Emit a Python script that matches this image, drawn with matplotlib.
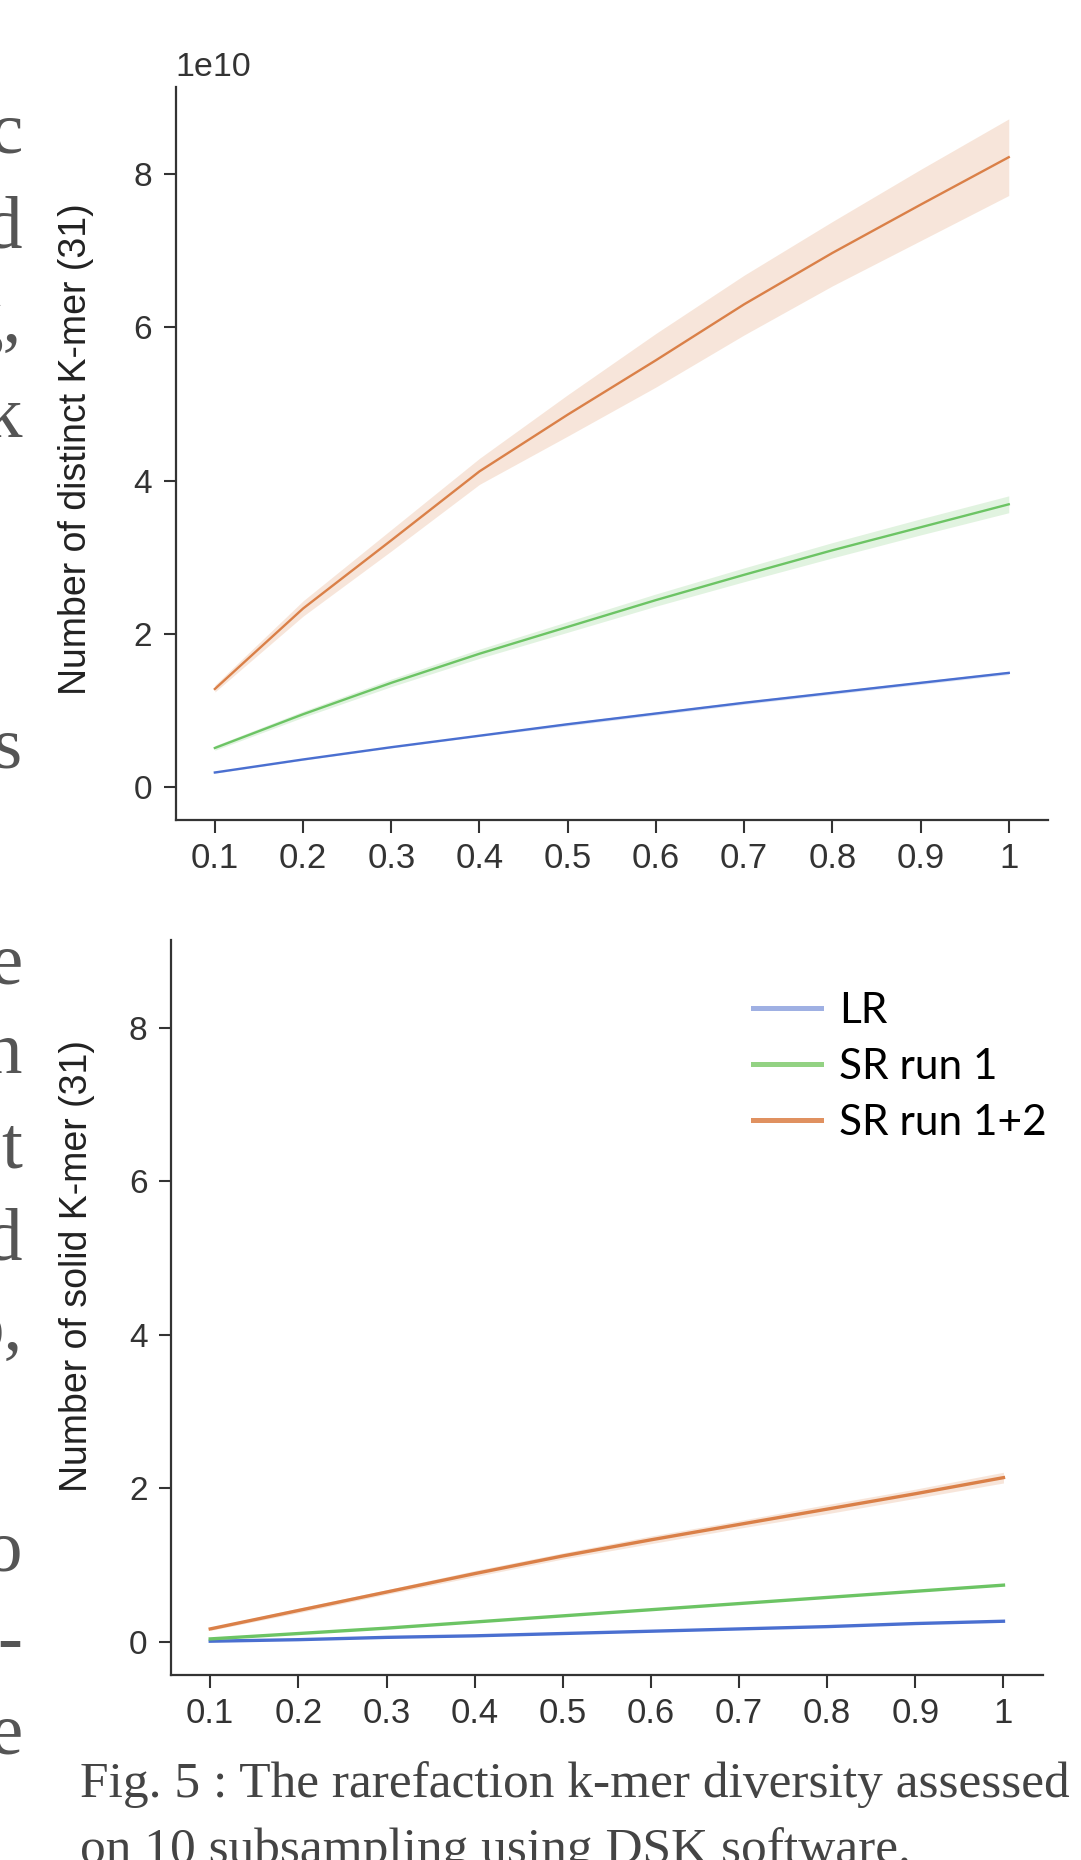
import matplotlib
matplotlib.use("Agg")
import matplotlib.pyplot as plt
from matplotlib.lines import Line2D

# subsampling fractions
fractions = [0.1, 0.2, 0.3, 0.4, 0.5, 0.6, 0.7, 0.8, 0.9, 1.0]
xtick_labels = ['0.1', '0.2', '0.3', '0.4', '0.5', '0.6', '0.7', '0.8', '0.9', '1']
SCALE = 1e10

# distinct k-mers (x 1e10): mean, low, high
lr_distinct = [0.19, 0.36, 0.52, 0.67, 0.82, 0.96, 1.10, 1.23, 1.36, 1.49]
lr_distinct_lo = [0.18, 0.35, 0.51, 0.66, 0.80, 0.94, 1.08, 1.21, 1.34, 1.47]
lr_distinct_hi = [0.20, 0.37, 0.53, 0.68, 0.84, 0.98, 1.12, 1.25, 1.38, 1.51]

sr1_distinct = [0.51, 0.95, 1.36, 1.74, 2.09, 2.44, 2.77, 3.09, 3.39, 3.69]
sr1_distinct_lo = [0.48, 0.91, 1.31, 1.68, 2.02, 2.36, 2.68, 2.99, 3.29, 3.58]
sr1_distinct_hi = [0.54, 0.99, 1.41, 1.80, 2.16, 2.52, 2.86, 3.19, 3.50, 3.80]

sr12_distinct = [1.28, 2.33, 3.22, 4.12, 4.86, 5.57, 6.30, 6.97, 7.60, 8.22]
sr12_distinct_lo = [1.24, 2.23, 3.08, 3.95, 4.58, 5.22, 5.90, 6.54, 7.13, 7.72]
sr12_distinct_hi = [1.33, 2.43, 3.36, 4.29, 5.12, 5.92, 6.68, 7.38, 8.06, 8.72]

# solid k-mers (x 1e10)
lr_solid = [0.01, 0.03, 0.06, 0.08, 0.11, 0.14, 0.17, 0.20, 0.24, 0.27]
sr1_solid = [0.04, 0.11, 0.18, 0.26, 0.34, 0.42, 0.50, 0.58, 0.66, 0.74]
sr12_solid = [0.17, 0.41, 0.65, 0.89, 1.12, 1.33, 1.53, 1.73, 1.93, 2.14]
sr12_solid_lo = [0.15, 0.38, 0.62, 0.85, 1.08, 1.28, 1.48, 1.67, 1.87, 2.07]
sr12_solid_hi = [0.19, 0.44, 0.68, 0.93, 1.16, 1.38, 1.58, 1.79, 1.99, 2.21]

labels = ['LR', 'SR run 1', 'SR run 1+2']
colors = ['#4a6fd0', '#6cc464', '#da8048']
legend_colors = ['#9fb0e3', '#93d283', '#e09160']

def sc(v):
    return [a * SCALE for a in v]

W, H = 1081, 1860
fig = plt.figure(figsize=(W / 100, H / 100), dpi=100)
fig.patch.set_facecolor('white')

ax1 = fig.add_axes([175.6 / W, 1 - 820 / H, 872.4 / W, 733.3 / H])
ax2 = fig.add_axes([171 / W, 1 - 1675 / H, 871.7 / W, 735 / H])

# top: distinct
ax1.fill_between(fractions, sc(lr_distinct_lo), sc(lr_distinct_hi), color=colors[0], alpha=0.2, lw=0)
ax1.fill_between(fractions, sc(sr1_distinct_lo), sc(sr1_distinct_hi), color=colors[1], alpha=0.2, lw=0)
ax1.fill_between(fractions, sc(sr12_distinct_lo), sc(sr12_distinct_hi), color=colors[2], alpha=0.2, lw=0)
ax1.plot(fractions, sc(lr_distinct), color=colors[0], lw=1.7)
ax1.plot(fractions, sc(sr1_distinct), color=colors[1], lw=1.7)
ax1.plot(fractions, sc(sr12_distinct), color=colors[2], lw=1.7)

# bottom: solid
ax2.fill_between(fractions, sc(sr12_solid_lo), sc(sr12_solid_hi), color=colors[2], alpha=0.2, lw=0)
ax2.plot(fractions, sc(lr_solid), color=colors[0], lw=2.4)
ax2.plot(fractions, sc(sr1_solid), color=colors[1], lw=2.4)
ax2.plot(fractions, sc(sr12_solid), color=colors[2], lw=2.4)

ylabels = ['Number of distinct K-mer (31)', 'Number of solid K-mer (31)']
label_pos = [(-0.114, 0.506), (-0.108, 0.556)]
for ax, yl, lp in zip([ax1, ax2], ylabels, label_pos):
    ax.set_xlim(0.0555, 1.0445)
    ax.set_ylim(-0.43 * SCALE, 9.14 * SCALE)
    ax.set_xticks(fractions)
    ax.set_xticklabels(xtick_labels)
    ax.set_yticks([0, 2 * SCALE, 4 * SCALE, 6 * SCALE, 8 * SCALE])
    for s in ['top', 'right']:
        ax.spines[s].set_visible(False)
    for s in ['left', 'bottom']:
        ax.spines[s].set_linewidth(1.6)
        ax.spines[s].set_color('#333333')
    ax.tick_params(axis='both', length=9, width=1.5, color='#333333',
                   labelcolor='#333333', labelsize=24)
    ax.tick_params(axis='x', pad=6.5, labelsize=25)
    ax.tick_params(axis='y', pad=8)
    for t in ax.get_xticklabels() + ax.get_yticklabels():
        t.set_fontfamily('Liberation Sans')
    ax.set_ylabel(yl, fontsize=27, family='Liberation Sans', color='#222222', va='center')
    ax.yaxis.set_label_coords(*lp)
    ax.set_facecolor('white')

off = ax1.yaxis.get_offset_text()
off.set_fontsize(24.5)
off.set_fontfamily('Liberation Sans')
off.set_color('#333333')
ax1.yaxis.OFFSETTEXTPAD = 8
ax2.yaxis.get_offset_text().set_visible(False)

handles = [Line2D([], [], color=c, lw=3.6) for c in legend_colors]
ax2.legend(handles, labels, frameon=False, loc='upper left',
           bbox_to_anchor=(752.8 / W, 1 - 992 / H), bbox_transform=fig.transFigure,
           borderpad=0, borderaxespad=0, handlelength=1.62, handletextpad=0.42,
           labelspacing=0.42, prop={'family': 'Lato', 'size': 30.5})

# caption
fig.text(79.5 / W, 1 - 1797 / H, 'Fig. 5 : The rarefaction k-mer diversity assessed',
         ha='left', va='baseline', fontsize=37, family='Liberation Serif', color='#444444')
fig.text(79.5 / W, 1 - 1863 / H, 'on 10 subsampling using DSK software.',
         ha='left', va='baseline', fontsize=37, family='Liberation Serif', color='#444444')

# ends of the neighbouring text column, cut by the left edge
margin_chars = ['c', 'd', 'g,', 'k', 's', 'e', 'n', 't', 'd', 'o,', 'o', '-', 'e']
margin_baselines = [152, 247, 342, 437, 767, 983, 1073, 1167, 1260, 1350, 1570, 1662, 1753]
for ch, yb in zip(margin_chars, margin_baselines):
    fig.text(22 / W, 1 - yb / H, ch, ha='right', va='baseline', fontsize=54,
             family='Liberation Serif', color='#555555')

fig.savefig('out.png', dpi=100, facecolor='white')
